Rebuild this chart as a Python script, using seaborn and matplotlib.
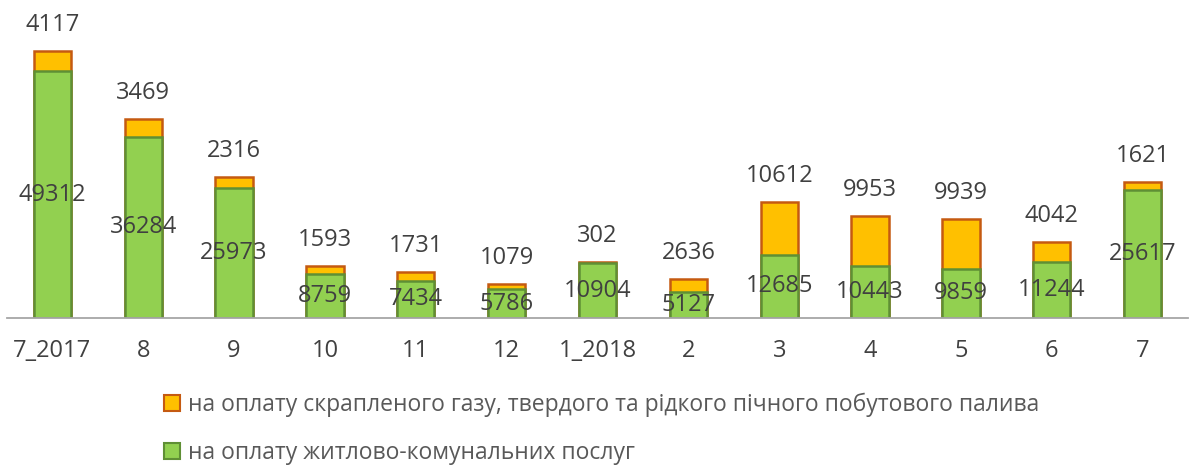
import matplotlib
matplotlib.use('Agg')
import matplotlib.pyplot as plt
import seaborn as sns
import pandas as pd
import numpy as np
from matplotlib.patches import Patch

months = ['7_2017', '8', '9', '10', '11', '12', '1_2018', '2', '3', '4', '5', '6', '7']
housing = [49312, 36284, 25973, 8759, 7434, 5786, 10904, 5127, 12685, 10443, 9859, 11244, 25617]
fuel = [4117, 3469, 2316, 1593, 1731, 1079, 302, 2636, 10612, 9953, 9939, 4042, 1621]

label_fuel = 'на оплату скрапленого газу, твердого та рідкого пічного побутового палива'
label_housing = 'на оплату житлово-комунальних послуг'

green, green_edge = '#92D050', '#5F8F35'
orange, orange_edge = '#FFC000', '#C55A11'
text_col = '#404040'

df = pd.DataFrame({'month': months, 'housing': housing, 'fuel': fuel})
df['total'] = df['housing'] + df['fuel']

sns.set_style('white')
plt.rcParams['font.family'] = ['Open Sans', 'DejaVu Sans']

fig = plt.figure(figsize=(11.96, 4.67), dpi=100)
ax = fig.add_axes([7 / 1196, 1 - 318 / 467, 1181 / 1196, 300 / 467])

# stacked look: totals in orange, housing drawn over them in green
sns.barplot(data=df, x='month', y='total', color=orange, edgecolor=orange_edge,
            linewidth=1.8, width=0.41, saturation=1, ax=ax)
sns.barplot(data=df, x='month', y='housing', color=green, edgecolor=green_edge,
            linewidth=1.8, width=0.41, saturation=1, ax=ax)

ax.bar_label(ax.containers[0], labels=[str(v) for v in fuel], padding=10,
             fontsize=17, color=text_col)
ax.bar_label(ax.containers[1], labels=[str(v) for v in housing], label_type='center',
             fontsize=17, color=text_col)

ax.set_xlim(-0.5, len(months) - 0.5)
ax.set_ylim(0, 60000)
ax.set_xlabel('')
ax.set_ylabel('')
ax.set_yticks([])
for s in ['top', 'right', 'left']:
    ax.spines[s].set_visible(False)
ax.spines['bottom'].set_color('#a6a6a6')
ax.spines['bottom'].set_linewidth(1.3)

ax.set_xticks(np.arange(-0.5, len(months)), minor=True)
ax.tick_params(axis='x', which='minor', length=8, width=1.3, color='#a6a6a6', direction='out')
ax.tick_params(axis='x', which='major', length=0, pad=15, labelsize=17, labelcolor=text_col)

handles = [Patch(facecolor=orange, edgecolor=orange_edge, linewidth=1.5, label=label_fuel),
           Patch(facecolor=green, edgecolor=green_edge, linewidth=1.5, label=label_housing)]
fig.legend(handles=handles, loc='upper center', bbox_to_anchor=(0.503, 1 - 393 / 467),
           ncol=1, frameon=False, fontsize=16.5, labelcolor='#595959',
           handlelength=0.7, handleheight=0.7, handletextpad=0.35, labelspacing=1.05,
           borderaxespad=0, borderpad=0)

fig.savefig('out.png', dpi=100)
